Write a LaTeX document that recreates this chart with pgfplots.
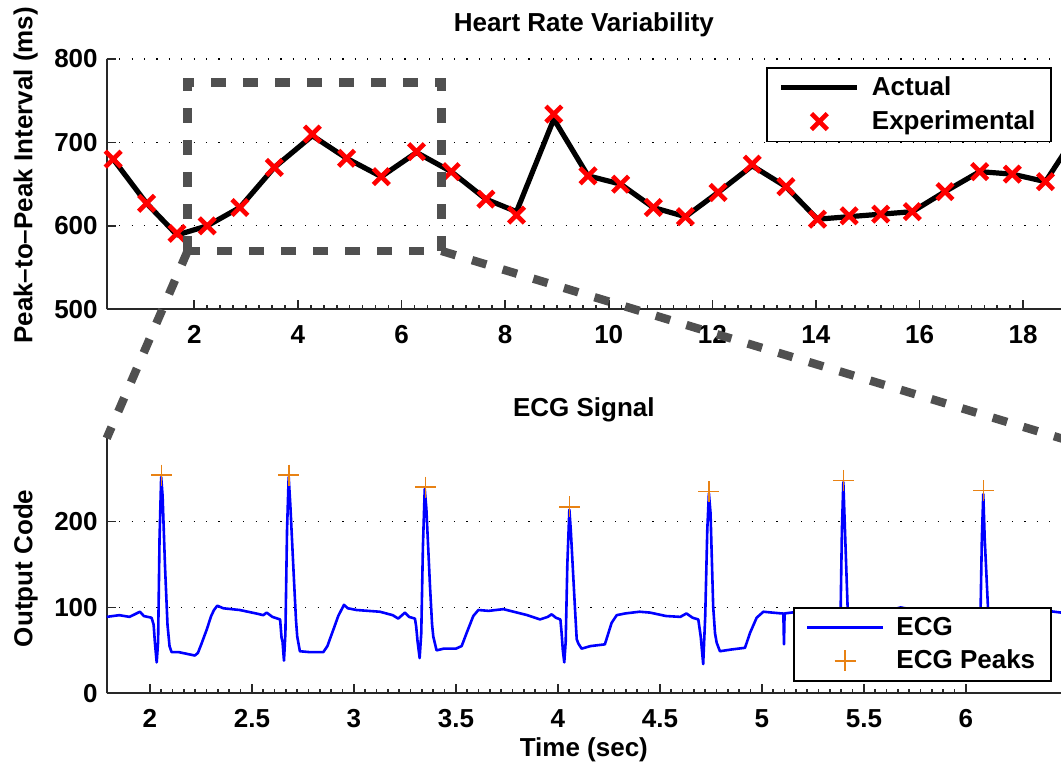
\documentclass[border=0pt]{standalone}
\usepackage{fontspec}
\setmainfont{Liberation Sans}
\usepackage{pgfplots}
\pgfplotsset{compat=1.18}
\usetikzlibrary{calc}

\definecolor{ecgblue}{RGB}{0,0,255}
\definecolor{peakorange}{RGB}{232,130,20}
\definecolor{zoomgray}{RGB}{80,80,80}
\definecolor{axgray}{RGB}{40,40,40}
\newcommand{\fs}{\fontsize{13}{15}\selectfont\bfseries}

\pgfplotsset{
  matlab/.style={
    scale only axis,
    width=477.15pt,
    axis lines=left,
    axis line style={-, axgray, line width=0.8pt},
    tick align=inside,
    major tick length=4.5pt,
    minor tick length=2pt,
    tick style={axgray, line width=0.8pt},
    ymajorgrids,
    major grid style={black, line width=0.6pt, dash pattern=on 0.6pt off 5.6pt},
    /pgf/number format/assume math mode=true,
    tick label style={font=\fs},
    xticklabel style={yshift=-4.5pt},
    yticklabel style={xshift=-1pt},
    label style={font=\fs},
    title style={font=\fs},
    legend cell align=left,
    legend style={font=\fs, draw=black, line width=0.8pt, fill=white,
      inner xsep=6pt, inner ysep=2.5pt, row sep=2pt,
      nodes={inner sep=2pt},
      /tikz/every odd column/.append style={column sep=4pt}},
    legend image code/.code={\draw[mark repeat=2,mark phase=2,#1]
      plot coordinates {(0pt,0pt) (19pt,0pt) (38pt,0pt)};},
  }
}

\begin{document}
\begin{tikzpicture}

% upper panel: peak-to-peak intervals
\begin{axis}[matlab,
  at={(53.35pt,227.85pt)}, anchor=south west,
  height=125.15pt,
  xmin=0.31, xmax=18.73,
  ymin=500, ymax=800,
  xtick={2,4,...,18},
  ytick={500,600,700,800},
  minor x tick num=7,
  title={Heart Rate Variability},
  title style={at={(axis description cs:0.5,1)}, anchor=center, yshift=11pt},
  ylabel={Peak–to–Peak Interval (ms)},
  ylabel style={at={(axis description cs:-0.085,0.535)}, anchor=center},
  legend style={at={(axis description cs:0.9906,0.968)}, anchor=north east},
]
\addplot[black, line width=2.6pt, line join=round] coordinates {
  (0.435,680) (1.08,627) (1.667,589) (2.25,600) (2.88,622) (3.545,670)
  (4.28,708) (4.94,681) (5.61,659) (6.29,688) (6.96,665) (7.63,632)
  (8.22,617) (8.94,728) (9.60,660) (10.23,650) (10.86,622) (11.48,611)
  (12.11,640) (12.77,672) (13.42,647) (14.03,608) (14.64,611) (15.25,614)
  (15.86,617) (16.49,641) (17.16,665) (17.79,662) (18.43,653) (19.05,712)
};
\addlegendentry{Actual}
\addplot[only marks, mark=x, mark size=5.6pt,
  mark options={red, line width=2.3pt}] coordinates {
  (0.435,680) (1.08,627) (1.667,591) (2.25,600) (2.88,622) (3.545,670)
  (4.28,710) (4.94,681) (5.61,659) (6.29,689) (6.96,665) (7.63,632)
  (8.22,613) (8.94,734) (9.60,660) (10.23,650) (10.86,622) (11.48,611)
  (12.11,640) (12.77,674) (13.42,647) (14.03,608) (14.64,612) (15.25,614)
  (15.86,617) (16.49,641) (17.16,665) (17.79,662) (18.43,653) (19.05,712)
};
\addlegendentry{Experimental}
\coordinate (rbl) at (axis cs:1.873,570);
\coordinate (rtl) at (axis cs:1.873,772);
\coordinate (rtr) at (axis cs:6.77,772);
\coordinate (rbr) at (axis cs:6.77,570);
\end{axis}

% lower panel: ECG trace
\begin{axis}[matlab,
  at={(53.35pt,35.85pt)}, anchor=south west,
  height=127.5pt,
  xmin=1.788, xmax=6.466,
  ymin=0, ymax=297,
  xtick={2,2.5,...,6},
  ytick={0,100,200},
  minor x tick num=8,
  title={ECG Signal},
  title style={at={(axis description cs:0.5,1)}, anchor=center, yshift=8pt},
  xlabel={Time (sec)},
  xlabel style={at={(axis description cs:0.5,0)}, anchor=center, yshift=-28.4pt},
  ylabel={Output Code},
  ylabel style={at={(axis description cs:-0.085,0.49)}, anchor=center},
  legend style={at={(axis description cs:0.9906,0.0455)}, anchor=south east},
]
\addplot[ecgblue, line width=1.3pt, line join=round] coordinates {
  (1.788,89) (1.85,91) (1.90,89) (1.951,95) (1.97,90) (2.008,88)
  (2.018,80) (2.024,60) (2.033,36) (2.040,60) (2.047,180) (2.055,252)
  (2.062,230) (2.074,147) (2.086,80) (2.096,55) (2.106,48) (2.14,48)
  (2.18,46) (2.22,44) (2.235,47) (2.25,56) (2.278,74) (2.30,90)
  (2.314,97) (2.33,102) (2.36,99) (2.44,97) (2.52,93) (2.556,91)
  (2.572,94) (2.60,89) (2.638,86) (2.645,65) (2.650,60) (2.657,38)
  (2.664,70) (2.672,190) (2.680,252) (2.688,220) (2.706,132) (2.716,85)
  (2.722,66) (2.735,49) (2.78,48) (2.85,48) (2.87,55) (2.882,63)
  (2.905,78) (2.923,90) (2.951,103) (2.97,99) (3.013,97) (3.127,95)
  (3.19,91) (3.217,87) (3.25,94) (3.27,89) (3.299,87) (3.305,78)
  (3.312,60) (3.322,41) (3.330,70) (3.338,170) (3.347,238) (3.355,215)
  (3.373,124) (3.383,80) (3.389,66) (3.405,50) (3.44,52) (3.50,52)
  (3.528,55) (3.552,70) (3.585,90) (3.61,97) (3.66,96) (3.732,98)
  (3.80,94) (3.85,91) (3.912,86) (3.95,89) (3.969,92) (3.99,88)
  (4.012,86) (4.018,70) (4.024,50) (4.031,36) (4.038,60) (4.046,150)
  (4.056,214) (4.063,190) (4.083,101) (4.092,63) (4.100,58) (4.116,52)
  (4.16,55) (4.23,57) (4.263,82) (4.288,91) (4.33,93) (4.40,95)
  (4.451,94) (4.53,90) (4.60,89) (4.63,93) (4.66,88) (4.688,86)
  (4.700,66) (4.712,34) (4.722,90) (4.732,190) (4.740,233) (4.748,210)
  (4.761,101) (4.770,70) (4.778,59) (4.794,49) (4.85,51) (4.917,53)
  (4.941,70) (4.974,88) (5.007,95) (5.05,94) (5.096,93) (5.105,93)
  (5.108,57) (5.111,93) (5.178,95) (5.25,96) (5.33,94) (5.365,90)
  (5.375,40) (5.386,100) (5.392,190) (5.399,246) (5.407,190) (5.42,100)
  (5.43,50) (5.50,50) (5.56,52) (5.60,85) (5.63,97) (5.68,100)
  (5.75,97) (5.85,95) (6.00,92) (6.05,88) (6.062,40) (6.072,100)
  (6.078,180) (6.085,232) (6.092,180) (6.108,100) (6.12,50) (6.20,52)
  (6.24,55) (6.28,85) (6.31,97) (6.40,96) (6.466,94)
};
\addlegendentry{ECG}
\addplot[only marks, mark=+, mark size=5.25pt,
  mark options={peakorange, line width=0.8pt}] coordinates {
  (2.057,254) (2.681,254) (3.351,240) (4.057,217)
  (4.740,235) (5.399,248) (6.087,236)
};
\addlegendentry{ECG Peaks}
\coordinate (etl) at (rel axis cs:0,1);
\coordinate (etr) at (rel axis cs:1,1);
\end{axis}

% zoom indicator
\draw[zoomgray, line width=4.2pt, dash pattern=on 7.5pt off 8.5pt]
  (rbl) -- (rtl) -- (rtr) -- (rbr) -- cycle;
\draw[zoomgray, line width=4.2pt, dash pattern=on 7.5pt off 8.5pt]
  (rbl) -- (etl);
\draw[zoomgray, line width=4.2pt, dash pattern=on 7.5pt off 8.5pt]
  (rbr) -- ($(rbr)!1.02!(etr)$);

\pgfresetboundingbox
\path[use as bounding box] (0,0) rectangle (530.5pt,382.5pt);
\end{tikzpicture}
\end{document}
